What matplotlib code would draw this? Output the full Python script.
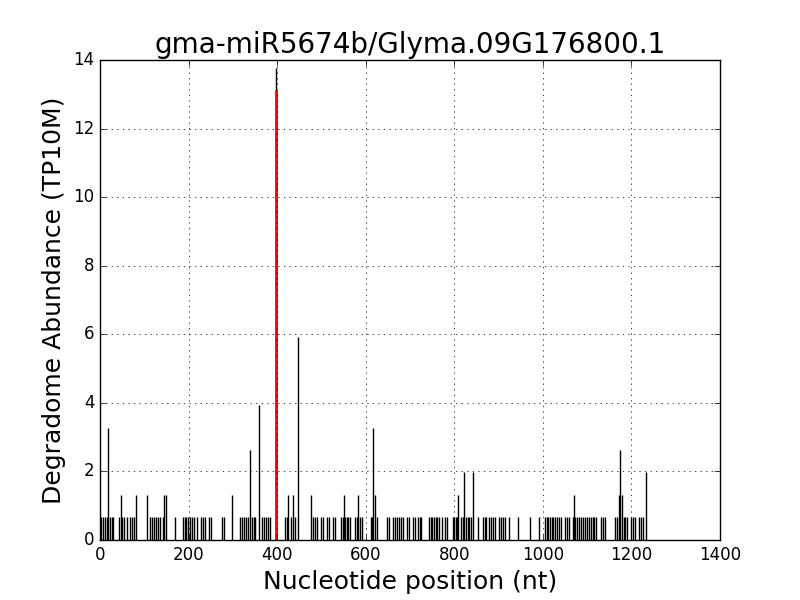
import numpy as np
import matplotlib
matplotlib.use('Agg')
import matplotlib.pyplot as plt

plt.style.use('classic')

title = 'gma-miR5674b/Glyma.09G176800.1'

# Позиции с минимальной плотностью (1 прочтение)
low_pos = [3, 7, 11, 15, 22, 26, 30, 43, 50, 54, 61, 68, 72, 77,
           113, 117, 122, 126, 131, 136, 143,
           169, 187, 191, 195, 199, 204, 208, 212, 219, 228, 233, 237,
           246, 250, 276, 280, 316, 320, 325, 330, 334, 343, 347, 350,
           366, 370, 375, 379, 384, 418, 422, 431, 440, 481, 485, 490,
           499, 503, 512, 517, 526, 530,
           544, 548, 553, 557, 561, 564, 576, 580, 587, 591, 612, 615, 625,
           648, 652, 662, 666, 670, 675, 680, 684, 693, 698, 707, 711,
           718, 722, 725, 743, 747, 750, 754, 758, 762, 766, 772, 779, 783,
           797, 800, 803, 806, 815, 819, 826, 830, 834, 837, 853, 865, 869,
           872, 878, 882, 887,
           892, 901, 905, 909, 914, 923, 944, 971, 991, 1005, 1009, 1012,
           1016, 1020, 1024, 1027, 1032, 1036, 1041, 1050, 1055, 1059, 1068,
           1072, 1077, 1081, 1086, 1090, 1095, 1100, 1104, 1108, 1113, 1116,
           1120, 1131, 1136, 1140, 1163, 1168, 1183, 1186, 1190, 1199, 1203,
           1208, 1217, 1221, 1226]
low_val = 0.66

# Позиции с большей плотностью
high_pos = [19, 47, 81, 106, 145, 149, 299, 339, 359, 398, 425, 436, 447,
            476, 551, 582, 617, 621, 808, 822, 842, 1070, 1171, 1174, 1179,
            1233]
high_val = [3.28, 1.31, 1.31, 1.31, 1.31, 1.31, 1.31, 2.62, 3.94, 13.78,
            1.31, 1.31, 5.91, 1.31, 1.31, 1.31, 3.28, 1.31, 1.31, 1.97,
            1.97, 1.31, 1.31, 2.62, 1.31, 1.97]

# Сайт разрезания
cut_pos = 398
cut_val = 13.12

fig, ax = plt.subplots(figsize=(8, 6), dpi=100)
fig.patch.set_facecolor('white')

ax.vlines(low_pos, 0, low_val, colors='k', linewidth=1)
ax.vlines(high_pos, 0, high_val, colors='k', linewidth=1)
ax.vlines([cut_pos], 0, [cut_val], colors='r', linewidth=2)

ax.set_xlim(0, 1400)
ax.set_ylim(0, 14)
ax.set_xticks(np.arange(0, 1401, 200))
ax.set_yticks(np.arange(0, 15, 2))
ax.grid(True)

ax.set_title(title, fontsize=20)
ax.set_xlabel('Nucleotide position (nt)', fontsize=18)
ax.set_ylabel('Degradome Abundance (TP10M)', fontsize=18)

fig.savefig('out.png', dpi=100, facecolor='white')
